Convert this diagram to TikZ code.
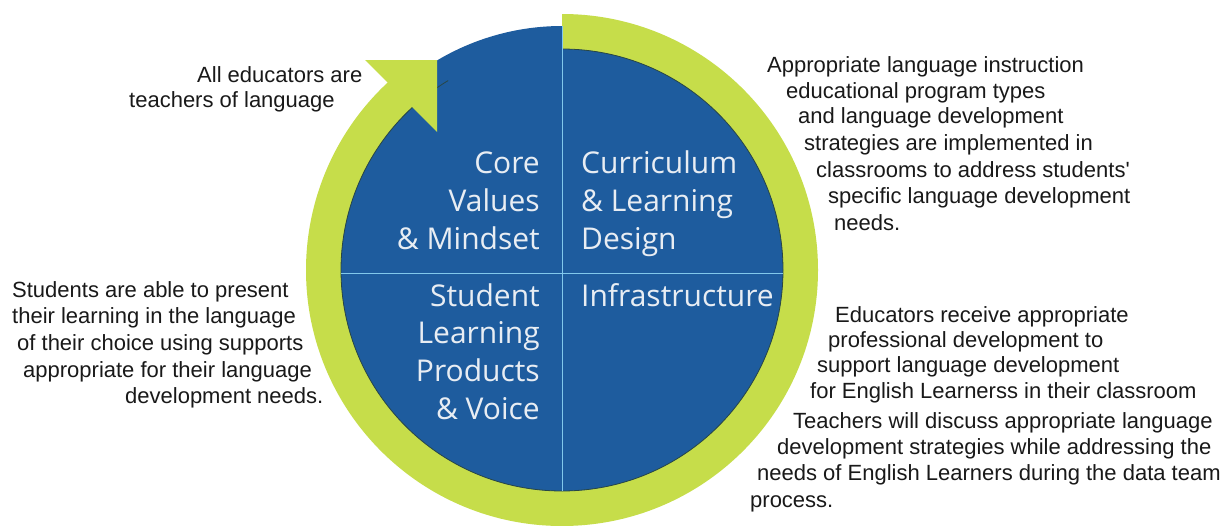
\documentclass[tikz,border=0pt]{standalone}
\usepackage{fontspec}
\newfontfamily\bodyfont{Liberation Sans}
\newfontfamily\circfont{Open Sans}
\definecolor{ringgreen}{RGB}{198,221,74}
\definecolor{discblue}{RGB}{30,92,158}
\definecolor{discedge}{RGB}{40,70,70}
\definecolor{divline}{RGB}{130,200,235}
\definecolor{disctext}{RGB}{232,237,243}
\definecolor{bodytext}{RGB}{25,25,25}
\begin{document}
\begin{tikzpicture}[x=1pt,y=-1pt,
  bodytxt/.style={font=\bodyfont\fontsize{22}{26}\selectfont, text=bodytext, inner sep=0pt, anchor=base west},
  disctxtL/.style={font=\circfont\fontsize{30}{38}\selectfont, text=disctext, inner sep=0pt, anchor=base east},
  disctxtR/.style={font=\circfont\fontsize{30}{38}\selectfont, text=disctext, inner sep=0pt, anchor=base west},
  divider/.style={draw=divline, line width=1pt}]
\useasboundingbox (0,0) rectangle (1224,525);
\fill[white] (0,0) rectangle (1224,525);
\begin{scope}[shift={(562,270)}, y=1pt]
  \coordinate (ctr) at (0,0);
  % green ring arrow body
  \fill[ringgreen] (90:212) -- (90:256) arc[start angle=90, end angle=-228.5, radius=256]
    -- (-228.5:212) arc[start angle=-228.5, end angle=90, radius=212] -- cycle;
  % blue disc
  \fill[discblue] (ctr) circle[radius=221];
  \fill[discblue] (ctr) -- (90:244) arc[start angle=90, end angle=120.8, radius=244] -- (-125,138) -- cycle;
  \draw[discedge, line width=0.8pt] (90:221) arc[start angle=90, end angle=-239, radius=221];
  % arrow head
  \fill[ringgreen] (-197,210) -- (-125,210) -- (-125,138) -- cycle;
  % dividers
  \draw[divider] (0,244) -- (0,-221);
  \draw[divider] (-221,-3) -- (221,-3);
\end{scope}
% disc texts
\foreach \t/\x/\y [count=\i] in {Core/540/173, Values/540/211, {\& Mindset}/540/249,
    Student/540/306, Learning/540/343, Products/540/381, {\& Voice}/540/419}
  \node[disctxtL] (dl\i) at (\x,\y) {\t};
\foreach \t/\x/\y [count=\i] in {Curriculum/581/173, {\& Learning}/581/211, Design/581/249,
    Infrastructure/581/306}
  \node[disctxtR] (dr\i) at (\x,\y) {\t};
% outside texts
\foreach \t/\x/\y [count=\i] in {{All educators are}/197/82, {teachers of language}/129/107}
  \node[bodytxt] (lt\i) at (\x,\y) {\t};
\foreach \t/\x/\y [count=\i] in {{Appropriate language instruction}/767/72,
    {educational program types}/786/98,
    {and language development}/798/123,
    {strategies are implemented in}/804/150,
    {classrooms to address students'}/816/177,
    {specific language development}/828/203,
    {needs.}/834/230}
  \node[bodytxt] (rt\i) at (\x,\y) {\t};
\foreach \t/\x/\y [count=\i] in {{Students are able to present}/12/297,
    {their learning in the language}/12/323,
    {of their choice using supports}/17/350,
    {appropriate for their language}/23/377,
    {development needs.}/125/403}
  \node[bodytxt] (lb\i) at (\x,\y) {\t};
\foreach \t/\x/\y [count=\i] in {{Educators receive appropriate}/835/322,
    {professional development to}/828/347,
    {support language development}/817/372,
    {for English Learnerss in their classroom}/810/398,
    {Teachers will discuss appropriate language}/793/428,
    {development strategies while addressing the}/777/454,
    {needs of English Learners during the data team}/757/480,
    {process.}/750/507}
  \node[bodytxt] (rb\i) at (\x,\y) {\t};
\end{tikzpicture}
\end{document}
